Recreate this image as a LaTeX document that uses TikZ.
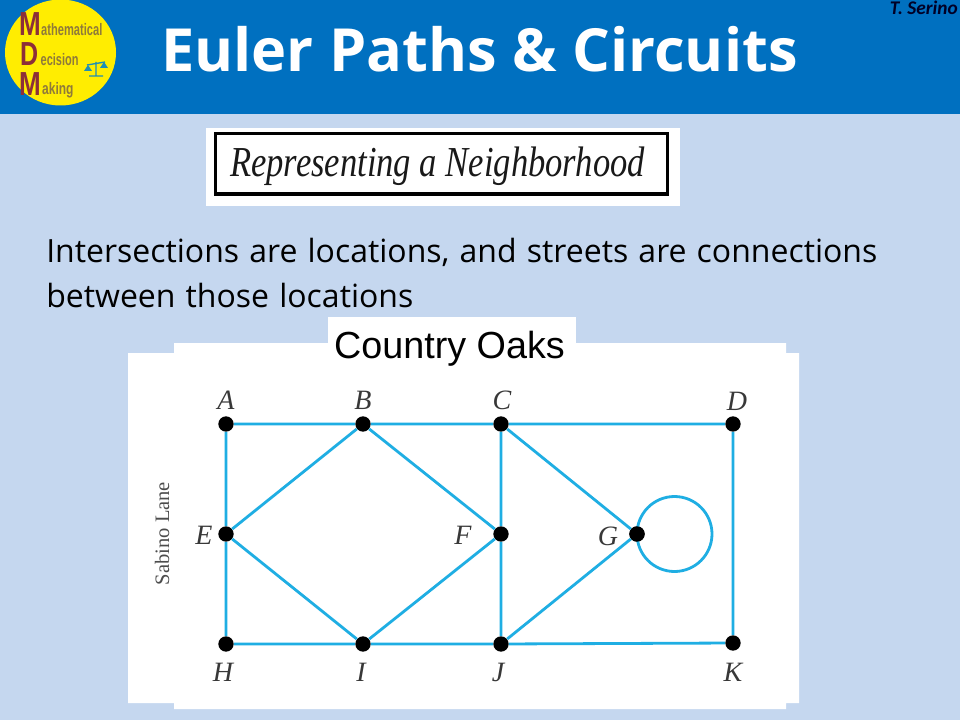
\documentclass[tikz,border=0pt]{standalone}
\usepackage{fontspec}
\setmainfont{Open Sans}
\newfontfamily\ser{Liberation Serif}
\newfontfamily\arial{Liberation Sans}
\newfontfamily\car{Carlito}
\definecolor{bg}{HTML}{C5D7EF}
\definecolor{band}{HTML}{0070C0}
\definecolor{edge}{HTML}{1FAEE3}
\definecolor{maroon}{HTML}{8C2F39}
\definecolor{olive}{HTML}{8F7A3A}
\definecolor{scaleblue}{HTML}{1F8FB5}
\newcommand{\widerspaces}{\spaceskip=7.6pt\relax}
\tikzset{
 road/.style={draw=edge,line width=2.1pt},
 vertex/.style={circle,fill=black,inner sep=0pt,minimum size=11.5pt},
 vname/.style={font=\ser\itshape\fontsize{21}{21}\selectfont,text=black!78,inner sep=0pt},
 whitebox/.style={fill=white,draw=none},
 big/.style={font=\arial\bfseries\fontsize{25}{25}\selectfont,text=maroon,inner sep=0pt,anchor=base west},
 small/.style={font=\arial\bfseries\fontsize{12.5}{12.5}\selectfont,text=olive,inner sep=0pt,anchor=base west},
 bodytext/.style={font=\fontsize{24}{24}\selectfont,text=black,inner sep=0pt,anchor=base west},
}
\begin{document}
\begin{tikzpicture}[x=0.75pt,y=-0.75pt]
\useasboundingbox (0,0) rectangle (960,720);
\fill[bg] (0,0) rectangle (960,720);
\fill[band] (0,0) rectangle (960,114);
% logo
\fill[yellow!95!orange] (60.5,52.5) ellipse (55.5 and 53);
\node[big,xscale=.78] (m1) at (19,36) {M};
\node[big,xscale=.75] (d1) at (20,66) {D};
\node[big,xscale=.78] (m2) at (19,96) {M};
\node[small,xscale=.667] (l1) at (41,35.5) {athematical};
\node[small,xscale=.66] (l2) at (40.5,65.5) {ecision};
\node[small,xscale=.72] (l3) at (42,95) {aking};
\draw[scaleblue,line width=1pt] (96,62)--(96,76) (89,76)--(103,76) (87,65)--(105,62);
\fill[scaleblue] (84,71) -- (88,65) -- (92,71) -- cycle (100,68) -- (104,62) -- (108,68) -- cycle;
% title
\node[font=\bfseries\fontsize{44.6}{44.6}\selectfont,text=white,inner sep=0pt,anchor=base west] (title) at (161,72) {Euler Paths \& Circuits};
\node[font=\car\bfseries\itshape\fontsize{14.5}{14.5}\selectfont,text=black!85!blue,inner sep=0pt,anchor=base east] (author) at (958,15) {T. Serino};
% heading image
\fill[whitebox] (206,128) rectangle (680,206);
\draw[black,line width=2.3pt] (215.5,133.5) rectangle (667.5,194);
\node[font=\ser\itshape\fontsize{32}{32}\selectfont,text=black!90,inner sep=0pt,xscale=.81,anchor=base] (head) at (437.5,177) {Representing a Neighborhood};
% body
\node[bodytext] (t1) at (46,263) {\widerspaces Intersections are locations, and streets are connections};
\node[bodytext] (t2) at (46,307.5) {\widerspaces between those locations};
% white panel
\fill[whitebox] (128,353) -- (128,703) -- (174,703) -- (174,709) -- (786,709) -- (786,703) -- (799,703) -- (799,353) -- (786,353) -- (786,343) -- (174,343) -- (174,353) -- cycle;
\fill[whitebox] (328,317) rectangle (576,350);
\node[font=\arial\fontsize{28.3}{28.3}\selectfont,text=black,inner sep=0pt] (co) at (449.5,349) {Country Oaks};
\node[font=\ser\fontsize{15.4}{15.4}\selectfont,text=black!70,rotate=90,inner sep=0pt] (lane) at (162,533.5) {Sabino Lane};
% graph
\node[vertex] (A) at (226,424) {};
\node[vertex] (B) at (363,424) {};
\node[vertex] (C) at (501,424) {};
\node[vertex] (D) at (733,424) {};
\node[vertex] (E) at (226,534) {};
\node[vertex] (F) at (501,534) {};
\node[vertex] (G) at (637,534) {};
\node[vertex] (H) at (226,644) {};
\node[vertex] (I) at (363,644) {};
\node[vertex] (J) at (501,644) {};
\node[vertex] (K) at (733,643) {};
\draw[road] (A)--(B) (B)--(C) (C)--(D) (A)--(E) (E)--(H) (H)--(I) (I)--(J) (J)--(K) (C)--(F) (F)--(J) (D)--(K)
 (B)--(E) (B)--(F) (E)--(I) (F)--(I) (C)--(G) (G)--(J);
\draw[road] (G.center) arc[start angle=180,delta angle=-360,radius=37.5];
\node[vertex] (G2) at (G) {};
\node[vname] (lA) at (226,400) {A};
\node[vname] (lB) at (363,400) {B};
\node[vname] (lC) at (502,400) {C};
\node[vname] (lD) at (737,401) {D};
\node[vname] (lE) at (204,535) {E};
\node[vname] (lF) at (463,535) {F};
\node[vname] (lG) at (608,536) {G};
\node[vname] (lH) at (223,672) {H};
\node[vname] (lI) at (361,672) {I};
\node[vname] (lJ) at (498,672) {J};
\node[vname] (lK) at (733,672) {K};
\end{tikzpicture}
\end{document}
